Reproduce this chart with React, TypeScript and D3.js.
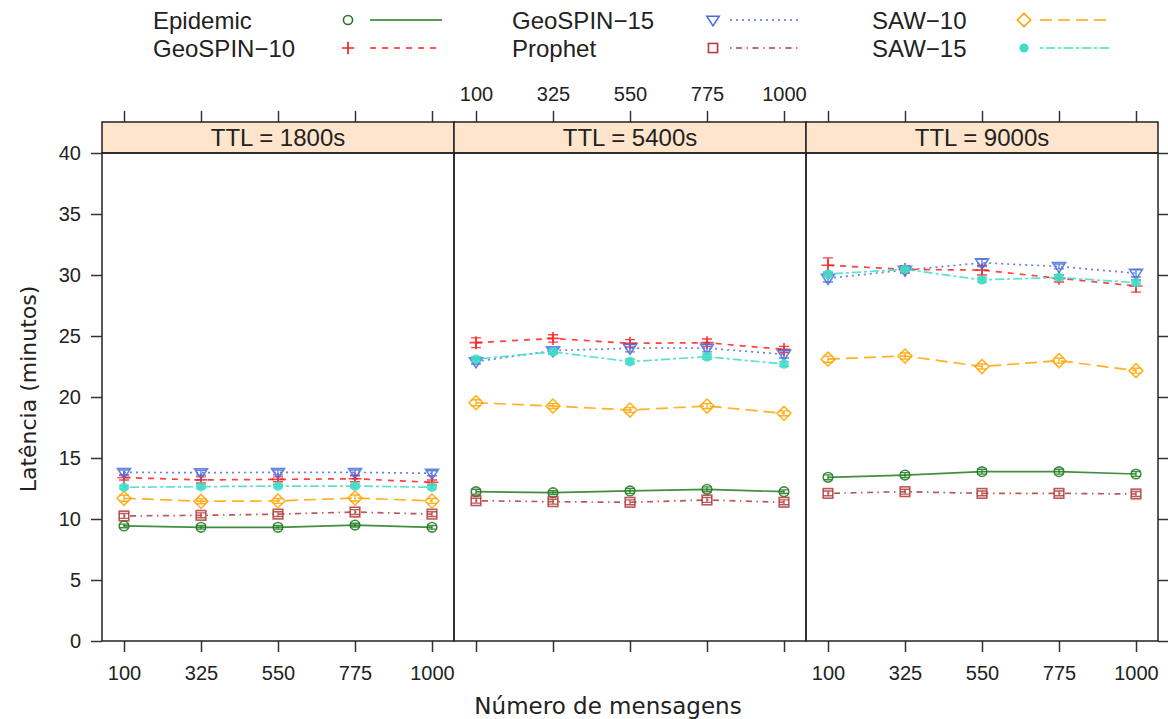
import * as d3 from "d3";
import React, { useEffect, useRef } from "react";

// Dados (latência em minutos), um array por painel TTL.
const panelLabels = ["TTL = 1800s", "TTL = 5400s", "TTL = 9000s"];
const messages = [100, 325, 550, 775, 1000];
const yTicks = [0, 5, 10, 15, 20, 25, 30, 35, 40];

const seriesNames = ["Epidemic", "GeoSPIN\u221210", "GeoSPIN\u221215", "Prophet", "SAW\u221210", "SAW\u221215"];

const epidemic = [
  [9.43, 9.32, 9.32, 9.5, 9.32],
  [12.24, 12.16, 12.3, 12.43, 12.24],
  [13.42, 13.6, 13.88, 13.88, 13.69],
];
const geospin10 = [
  [13.4, 13.2, 13.25, 13.3, 13.0],
  [24.45, 24.8, 24.4, 24.45, 23.9],
  [30.8, 30.46, 30.4, 29.73, 29.1],
];
const geospin15 = [
  [13.82, 13.8, 13.82, 13.82, 13.75],
  [22.9, 23.8, 24.0, 24.0, 23.5],
  [29.73, 30.4, 31.0, 30.7, 30.14],
];
const prophet = [
  [10.25, 10.3, 10.4, 10.57, 10.4],
  [11.5, 11.42, 11.37, 11.56, 11.37],
  [12.1, 12.24, 12.1, 12.1, 12.05],
];
const saw10 = [
  [11.7, 11.45, 11.48, 11.72, 11.48],
  [19.53, 19.26, 18.93, 19.26, 18.66],
  [23.1, 23.36, 22.5, 22.98, 22.16],
];
const saw15 = [
  [12.6, 12.65, 12.7, 12.7, 12.6],
  [23.1, 23.7, 22.9, 23.3, 22.7],
  [30.08, 30.46, 29.6, 29.8, 29.37],
];

// Meia-largura das barras de erro (só algumas são visíveis por baixo dos símbolos).
const epidemicErr = [[0.15, 0.15, 0.15, 0.15, 0.15], [0.2, 0.15, 0.2, 0.2, 0.15], [0.2, 0.2, 0.2, 0.2, 0.2]];
const geospin10Err = [[0.2, 0.25, 0.2, 0.25, 0.2], [0.4, 0.3, 0.3, 0.3, 0.25], [0.6, 0.3, 0.4, 0.3, 0.5]];
const geospin15Err = [[0.2, 0.2, 0.2, 0.2, 0.2], [0.2, 0.2, 0.3, 0.3, 0.3], [0.3, 0.2, 0.3, 0.2, 0.3]];
const prophetErr = [[0.2, 0.2, 0.2, 0.2, 0.2], [0.2, 0.2, 0.2, 0.2, 0.2], [0.2, 0.2, 0.2, 0.2, 0.2]];
const saw10Err = [[0.25, 0.2, 0.2, 0.25, 0.2], [0.25, 0.2, 0.2, 0.2, 0.2], [0.25, 0.25, 0.2, 0.2, 0.2]];
const saw15Err = [[0.15, 0.15, 0.15, 0.15, 0.15], [0.2, 0.2, 0.2, 0.2, 0.2], [0.2, 0.2, 0.2, 0.2, 0.2]];

const seriesValues = [epidemic, geospin10, geospin15, prophet, saw10, saw15];
const seriesErrors = [epidemicErr, geospin10Err, geospin15Err, prophetErr, saw10Err, saw15Err];

const colors = ["#1f7a1f", "#ff2020", "#4a6ee0", "#b03c3c", "#ffa500", "#3fdcc8"];
const dashes = [null, "6,6", "2,4", "1.5,4.5,6,4.5", "12,6", "3,3,9,3"];
const shapes = ["circle", "plus", "triangle", "square", "diamond", "dot"];

const FONT = "'Liberation Sans', Arial, Helvetica, sans-serif";

function drawMarker(g: any, shape: string, x: number, y: number, color: string, s = 1) {
  if (shape === "circle") {
    g.append("circle").attr("cx", x).attr("cy", y).attr("r", 4.8 * s)
      .attr("fill", "none").attr("stroke", color).attr("stroke-width", 1.6);
  } else if (shape === "dot") {
    g.append("circle").attr("cx", x).attr("cy", y).attr("r", 4.8 * s).attr("fill", color);
  } else if (shape === "plus") {
    const r = 6.5 * s;
    g.append("path").attr("d", `M${x - r},${y}H${x + r}M${x},${y - r}V${y + r}`)
      .attr("stroke", color).attr("stroke-width", 1.7).attr("fill", "none");
  } else if (shape === "triangle") {
    const r = 6.5 * s;
    g.append("path").attr("d", `M${x - r},${y - r * 0.6}L${x + r},${y - r * 0.6}L${x},${y + r * 0.95}Z`)
      .attr("stroke", color).attr("stroke-width", 1.6).attr("fill", "none");
  } else if (shape === "square") {
    const r = 4.8 * s;
    g.append("rect").attr("x", x - r).attr("y", y - r).attr("width", 2 * r).attr("height", 2 * r)
      .attr("stroke", color).attr("stroke-width", 1.6).attr("fill", "none");
  } else if (shape === "diamond") {
    const r = 7 * s;
    g.append("path").attr("d", `M${x},${y - r}L${x + r},${y}L${x},${y + r}L${x - r},${y}Z`)
      .attr("stroke", color).attr("stroke-width", 1.6).attr("fill", "none");
  }
}

export default function App() {
  const ref = useRef<SVGSVGElement>(null);

  useEffect(() => {
    const svg = d3.select(ref.current);
    svg.selectAll("*").remove();

    const width = 1168;
    const height = 719;
    const panelLeft = [102, 454, 806];
    const panelW = 352;
    const top = 153;
    const bottom = 641;
    const stripTop = 122;

    svg.attr("width", width).attr("height", height).attr("viewBox", [0, 0, width, height]);
    svg.append("rect").attr("width", width).attr("height", height).attr("fill", "white");

    const yScale = d3.scaleLinear([0, 40], [bottom, top]);

    // Eixo y à esquerda e à direita.
    const yAxisLeft = d3.axisLeft(yScale).tickValues(yTicks).tickSize(11).tickPadding(10);
    svg.append("g")
      .attr("transform", `translate(${panelLeft[0]},0)`)
      .call(yAxisLeft)
      .call((g) => g.select(".domain").remove())
      .call((g) => g.selectAll(".tick line").attr("stroke", "#333").attr("stroke-width", 1.5))
      .call((g) => g.selectAll("text").attr("font-family", FONT).attr("font-size", 20).attr("fill", "#222"));

    const yAxisRight = d3.axisRight(yScale).tickValues(yTicks).tickSize(10).tickFormat(() => "");
    svg.append("g")
      .attr("transform", `translate(${panelLeft[2] + panelW},0)`)
      .call(yAxisRight)
      .call((g) => g.select(".domain").remove())
      .call((g) => g.selectAll(".tick line").attr("stroke", "#333").attr("stroke-width", 1.5));

    panelLabels.forEach((label, p) => {
      const x0 = panelLeft[p];
      const xScale = d3.scaleLinear([100, 1000], [x0 + 22, x0 + 330]);

      // Eixo de baixo (rótulos nos painéis 1 e 3) e de cima (rótulos no painel 2).
      const xBottom = d3.axisBottom(xScale).tickValues(messages).tickSize(11).tickPadding(14)
        .tickFormat((d) => (p === 1 ? "" : String(d)));
      svg.append("g")
        .attr("transform", `translate(0,${bottom})`)
        .call(xBottom)
        .call((g) => g.select(".domain").remove())
        .call((g) => g.selectAll(".tick line").attr("stroke", "#333").attr("stroke-width", 1.5))
        .call((g) => g.selectAll("text").attr("font-family", FONT).attr("font-size", 20).attr("fill", "#222"));

      const xTop = d3.axisTop(xScale).tickValues(messages).tickSize(11).tickPadding(10)
        .tickFormat((d) => (p === 1 ? String(d) : ""));
      svg.append("g")
        .attr("transform", `translate(0,${stripTop})`)
        .call(xTop)
        .call((g) => g.select(".domain").remove())
        .call((g) => g.selectAll(".tick line").attr("stroke", "#333").attr("stroke-width", 1.5))
        .call((g) => g.selectAll("text").attr("font-family", FONT).attr("font-size", 20).attr("fill", "#222"));

      // Faixa do painel.
      svg.append("rect")
        .attr("x", x0).attr("y", stripTop).attr("width", panelW).attr("height", top - stripTop)
        .attr("fill", "#ffe5cc").attr("stroke", "#222").attr("stroke-width", 1.5);
      svg.append("text")
        .attr("x", x0 + panelW / 2).attr("y", (stripTop + top) / 2)
        .attr("dy", "0.36em")
        .attr("text-anchor", "middle")
        .attr("font-family", FONT).attr("font-size", 24).attr("fill", "#222")
        .text(label);

      const plot = svg.append("g");
      seriesValues.forEach((vals, s) => {
        const v = vals[p];
        const e = seriesErrors[s][p];
        const line = d3.line<number>().x((_, i) => xScale(messages[i])).y((d) => yScale(d));
        plot.append("path")
          .attr("d", line(v))
          .attr("fill", "none")
          .attr("stroke", colors[s])
          .attr("stroke-width", 1.7)
          .attr("stroke-opacity", 0.85)
          .attr("stroke-dasharray", dashes[s]);

        // Barras de erro.
        v.forEach((d, i) => {
          const x = xScale(messages[i]);
          const y1 = yScale(d + e[i]);
          const y2 = yScale(d - e[i]);
          plot.append("path")
            .attr("d", `M${x},${y1}V${y2}M${x - 5},${y1}H${x + 5}M${x - 5},${y2}H${x + 5}`)
            .attr("stroke", colors[s]).attr("stroke-width", 1.4).attr("fill", "none").attr("opacity", 0.85);
        });

        const mg = plot.append("g").attr("opacity", 0.85);
        v.forEach((d, i) => drawMarker(mg, shapes[s], xScale(messages[i]), yScale(d), colors[s]));
      });

      // Borda do painel.
      svg.append("rect")
        .attr("x", x0).attr("y", top).attr("width", panelW).attr("height", bottom - top)
        .attr("fill", "none").attr("stroke", "#222").attr("stroke-width", 1.5);
    });

    // Legenda em três colunas.
    const legendText = [153, 512, 872];
    const legendMarker = [348, 713, 1024];
    const legendLine = [
      [370, 442],
      [730, 800],
      [1040, 1112],
    ];
    const rowY = [20, 48];
    const legendOrder = [
      [0, 1],
      [2, 3],
      [4, 5],
    ];
    const legend = svg.append("g");
    legendOrder.forEach((col, c) => {
      col.forEach((s, r) => {
        const y = rowY[r];
        legend.append("text")
          .attr("x", legendText[c]).attr("y", y).attr("dy", "0.36em")
          .attr("font-family", FONT).attr("font-size", 24).attr("fill", "#222")
          .text(seriesNames[s]);
        drawMarker(legend, shapes[s], legendMarker[c], y, colors[s], 0.95);
        legend.append("line")
          .attr("x1", legendLine[c][0]).attr("x2", legendLine[c][1])
          .attr("y1", y).attr("y2", y)
          .attr("stroke", colors[s]).attr("stroke-width", 1.7)
          .attr("stroke-dasharray", dashes[s]);
      });
    });

    // Títulos dos eixos.
    svg.append("text")
      .attr("x", 608).attr("y", 706).attr("dy", "0.36em")
      .attr("text-anchor", "middle")
      .attr("font-family", "'DejaVu Sans', sans-serif").attr("font-size", 23).attr("fill", "#222")
      .text("Número de mensagens");
    svg.append("text")
      .attr("transform", `translate(28,${(top + bottom) / 2 - 8}) rotate(-90)`)
      .attr("dy", "0.36em")
      .attr("text-anchor", "middle")
      .attr("font-family", "'DejaVu Sans', sans-serif").attr("font-size", 22).attr("fill", "#222")
      .text("Latência (minutos)");
  }, []);

  return (
    <svg
      ref={ref}
      width={1168}
      height={719}
      style={{ position: "absolute", left: 0, top: 0, display: "block" }}
    ></svg>
  );
}
